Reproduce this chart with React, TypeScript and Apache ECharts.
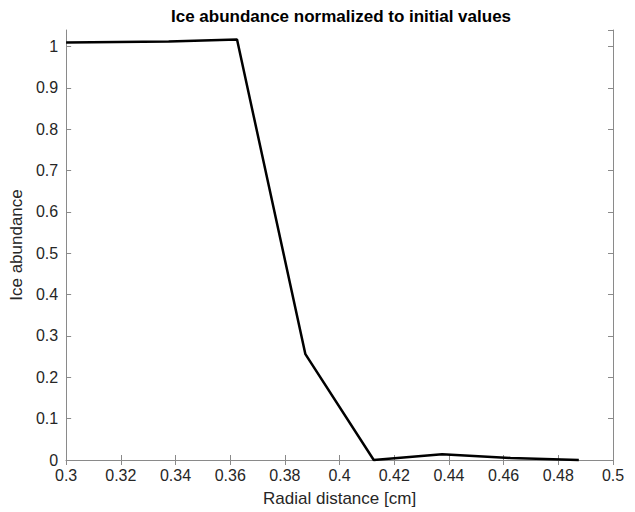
import React, { useEffect, useRef } from "react";
import * as echarts from "echarts";

const radialDistance = [0.3, 0.3375, 0.3625, 0.3875, 0.4125, 0.4375, 0.4625, 0.4875];
const iceAbundance = [1.01, 1.012, 1.017, 0.256, 0.0, 0.014, 0.005, 0.0];

const titleText = "Ice abundance normalized to initial values";
const xName = "Radial distance [cm]";
const yName = "Ice abundance";

export default function App() {
  const ref = useRef<HTMLDivElement>(null);
  useEffect(() => {
    if (!ref.current) return;
    const chart = echarts.init(ref.current, undefined, { renderer: "svg" });
    const font = "Liberation Sans, Arial, sans-serif";
    const axisColor = "#8a8a8a";
    const labelColor = "#262626";
    chart.setOption({
      animation: false,
      backgroundColor: "#ffffff",
      title: {
        text: titleText,
        left: 336,
        textAlign: "center",
        top: 3,
        textStyle: { fontFamily: font, fontSize: 17, fontWeight: "bold", color: "#000" },
      },
      grid: { left: 55, right: 22, top: 30, bottom: 42, containLabel: false },
      xAxis: [
        {
          type: "value",
          min: 0.3,
          max: 0.5,
          interval: 0.02,
          name: xName,
          nameLocation: "middle",
          nameGap: 30,
          nameTextStyle: { fontFamily: font, fontSize: 17, color: labelColor },
          axisLine: { lineStyle: { color: axisColor, width: 1 } },
          axisTick: { inside: true, length: 5, lineStyle: { color: axisColor } },
          axisLabel: {
            fontFamily: font,
            fontSize: 16,
            color: labelColor,
            margin: 7,
            formatter: (v: number) => String(parseFloat(v.toFixed(2))),
          },
          splitLine: { show: false },
        },
        {
          type: "value",
          position: "top",
          min: 0.3,
          max: 0.5,
          interval: 0.02,
          axisLine: { lineStyle: { color: axisColor, width: 1 } },
          axisTick: { inside: true, length: 5, lineStyle: { color: axisColor } },
          axisLabel: { show: false },
          splitLine: { show: false },
        },
      ],
      yAxis: [
        {
          type: "value",
          min: 0,
          max: 1.04,
          interval: 0.1,
          name: yName,
          nameLocation: "middle",
          nameGap: 37,
          nameTextStyle: { fontFamily: font, fontSize: 17, color: labelColor },
          axisLine: { show: true, lineStyle: { color: axisColor, width: 1 } },
          axisTick: { show: true, inside: true, length: 5, lineStyle: { color: axisColor } },
          axisLabel: {
            fontFamily: font,
            fontSize: 16,
            color: labelColor,
            margin: 8,
            showMaxLabel: false,
            formatter: (v: number) => String(parseFloat(v.toFixed(2))),
          },
          splitLine: { show: false },
        },
        {
          type: "value",
          position: "right",
          min: 0,
          max: 1.04,
          interval: 0.1,
          axisLine: { show: true, lineStyle: { color: axisColor, width: 1 } },
          axisTick: { show: true, inside: true, length: 5, lineStyle: { color: axisColor } },
          axisLabel: { show: false },
          splitLine: { show: false },
        },
      ],
      series: [
        {
          type: "line",
          data: radialDistance.map((x, i) => [x, iceAbundance[i]]),
          showSymbol: false,
          symbol: "none",
          lineStyle: { color: "#000", width: 2.5 },
          clip: false,
        },
      ],
    });
    return () => chart.dispose();
  }, []);
  return <div ref={ref} style={{ width: 635, height: 512, position: "absolute", left: 0, top: 0 }} />;
}
